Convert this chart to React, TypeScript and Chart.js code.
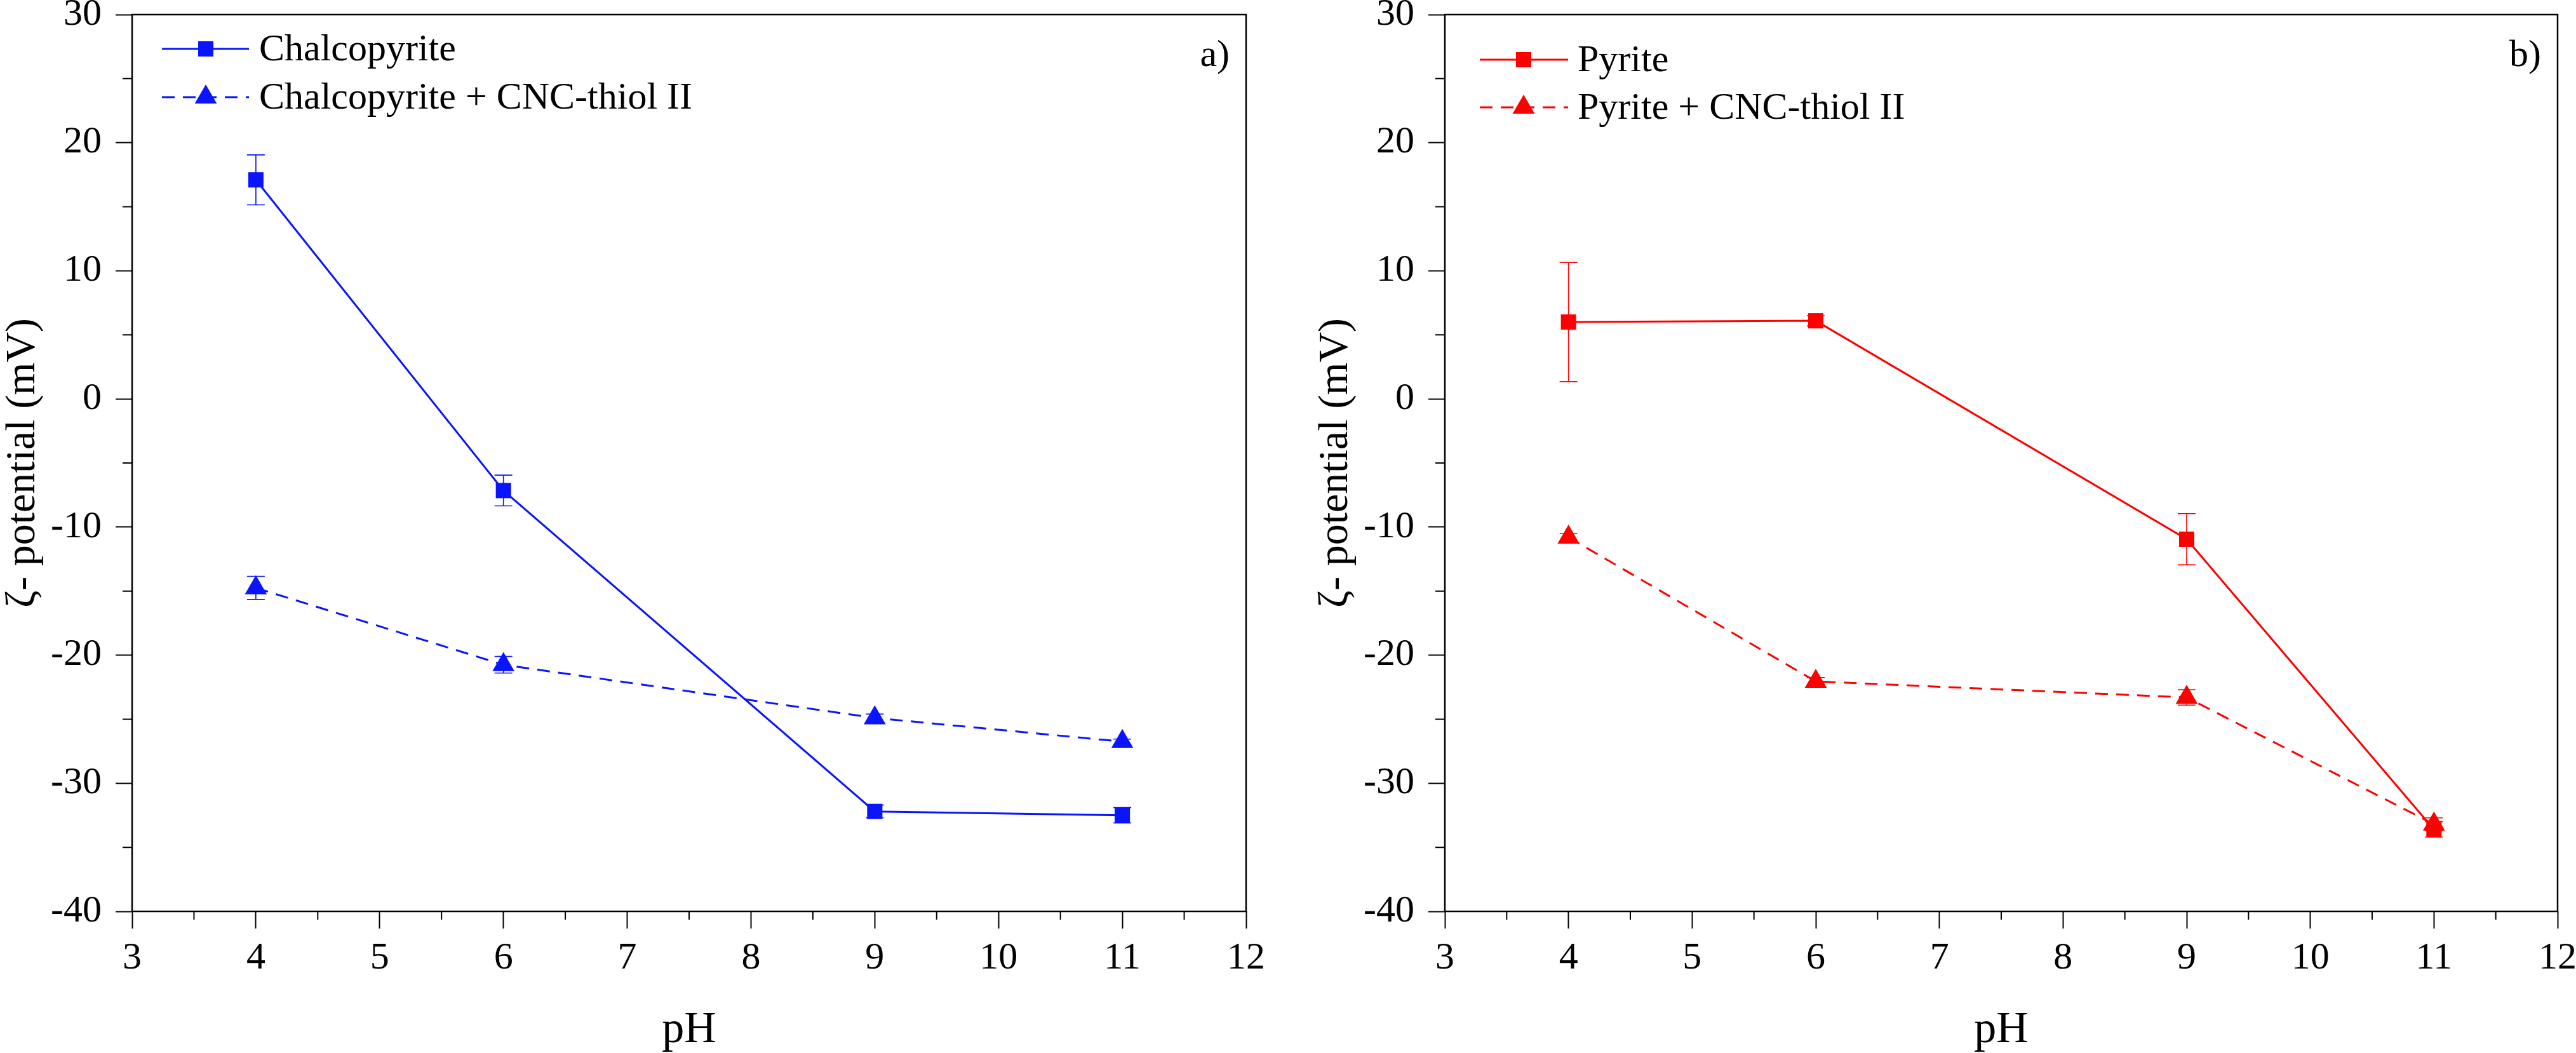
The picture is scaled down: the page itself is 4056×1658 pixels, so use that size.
import React, { useEffect, useRef } from 'react';
import { Chart, registerables } from 'chart.js';

Chart.register(...registerables);

// ---------- data ----------
const pHValues = [4, 6, 9, 11];

const chalcopyrite = [17.1, -7.15, -32.2, -32.5];
const chalcopyriteErr = [1.95, 1.2, 0.5, 0.6];
const chalcopyriteCNC = [-14.75, -20.75, -24.9, -26.75];
const chalcopyriteCNCErr = [0.9, 0.65, 0.3, 0.2];

const pyrite = [6.0, 6.1, -10.95, -33.6];
const pyriteErr = [4.65, 0.4, 2.0, 0.6];
const pyriteCNC = [-10.8, -22.05, -23.3, -33.2];
const pyriteCNCErr = [0.3, 0.3, 0.6, 0.5];

const xTickValues = [3, 4, 5, 6, 7, 8, 9, 10, 11, 12];
const yTickValues = [-40, -30, -20, -10, 0, 10, 20, 30];
const xMinorTicks = [3.5, 4.5, 5.5, 6.5, 7.5, 8.5, 9.5, 10.5, 11.5];
const yMinorTicks = [-35, -25, -15, -5, 5, 15, 25];

const xTitle = 'pH';
const yTitle = 'ζ- potential (mV)';
const labelsA = ['Chalcopyrite', 'Chalcopyrite + CNC-thiol II'];
const labelsB = ['Pyrite', 'Pyrite + CNC-thiol II'];

const BLUE = '#0a14ff';
const RED = '#ff0000';
const FONT = '"Liberation Serif", "Times New Roman", Times, serif';

const W = 4056;
const H = 1658;

type Panel = {
  left: number;
  width: number;
  padRight: number;
  color: string;
  labels: string[];
  series: number[][];
  errors: number[][];
  tag: string;
  legend: { x1: number; x2: number; mx: number; tx: number; y0: number; dy: number };
};

const panels: Panel[] = [
  {
    left: 0,
    width: 2030,
    padRight: 2030 - 1962,
    color: BLUE,
    labels: labelsA,
    series: [chalcopyrite, chalcopyriteCNC],
    errors: [chalcopyriteErr, chalcopyriteCNCErr],
    tag: 'a)',
    legend: { x1: 255, x2: 392, mx: 324, tx: 408, y0: 77, dy: 76 },
  },
  {
    left: 2067,
    width: W - 2067,
    padRight: W - 2067 - (4027 - 2067),
    color: RED,
    labels: labelsB,
    series: [pyrite, pyriteCNC],
    errors: [pyriteErr, pyriteCNCErr],
    tag: 'b)',
    legend: { x1: 263, x2: 402, mx: 332, tx: 417, y0: 94, dy: 75 },
  },
];

function drawMarker(ctx: CanvasRenderingContext2D, style: string, cx: number, cy: number, r: number, color: string) {
  ctx.save();
  ctx.fillStyle = color;
  ctx.beginPath();
  if (style === 'rect') {
    const s = Math.SQRT1_2 * r;
    ctx.rect(cx - s, cy - s, 2 * s, 2 * s);
  } else {
    ctx.moveTo(cx, cy - r);
    ctx.lineTo(cx + r * Math.sin(Math.PI / 3), cy + r / 2);
    ctx.lineTo(cx - r * Math.sin(Math.PI / 3), cy + r / 2);
    ctx.closePath();
  }
  ctx.fill();
  ctx.restore();
}

function makePlugin(panel: Panel) {
  return {
    id: 'decor',
    beforeDatasetsDraw(chart: any) {
      const ctx: CanvasRenderingContext2D = chart.ctx;
      const xs = chart.scales.x;
      const ys = chart.scales.y;
      ctx.save();
      panel.series.forEach((vals, i) => {
        const errs = panel.errors[i];
        ctx.strokeStyle = panel.color;
        ctx.lineWidth = 1.6;
        ctx.setLineDash([]);
        vals.forEach((v, j) => {
          const px = xs.getPixelForValue(pHValues[j]);
          const top = ys.getPixelForValue(v + errs[j]);
          const bot = ys.getPixelForValue(v - errs[j]);
          ctx.beginPath();
          ctx.moveTo(px, top);
          ctx.lineTo(px, bot);
          ctx.moveTo(px - 14, top);
          ctx.lineTo(px + 14, top);
          ctx.moveTo(px - 14, bot);
          ctx.lineTo(px + 14, bot);
          ctx.stroke();
        });
      });
      ctx.restore();
    },
    afterDraw(chart: any) {
      const ctx: CanvasRenderingContext2D = chart.ctx;
      const area = chart.chartArea;
      const xs = chart.scales.x;
      const ys = chart.scales.y;
      ctx.save();
      // frame
      ctx.strokeStyle = '#000';
      ctx.lineWidth = 2.5;
      ctx.setLineDash([]);
      ctx.strokeRect(area.left, area.top, area.right - area.left, area.bottom - area.top);
      // minor ticks
      ctx.lineWidth = 2;
      ctx.beginPath();
      xMinorTicks.forEach((v) => {
        const px = xs.getPixelForValue(v);
        ctx.moveTo(px, area.bottom);
        ctx.lineTo(px, area.bottom + 13);
      });
      yMinorTicks.forEach((v) => {
        const py = ys.getPixelForValue(v);
        ctx.moveTo(area.left - 15, py);
        ctx.lineTo(area.left, py);
      });
      ctx.stroke();
      // legend
      const lg = panel.legend;
      chart.data.datasets.forEach((ds: any, i: number) => {
        const y = lg.y0 + i * lg.dy;
        ctx.strokeStyle = ds.borderColor;
        ctx.lineWidth = 3;
        ctx.setLineDash(ds.borderDash || []);
        ctx.beginPath();
        ctx.moveTo(lg.x1, y);
        ctx.lineTo(lg.x2, y);
        ctx.stroke();
        ctx.setLineDash([]);
        drawMarker(ctx, ds.pointStyle, lg.mx, y, ds.pointRadius, ds.borderColor);
        ctx.fillStyle = '#000';
        ctx.font = `60px ${FONT}`;
        ctx.textAlign = 'left';
        ctx.textBaseline = 'middle';
        ctx.fillText(ds.label, lg.tx, y + 2);
      });
      // panel tag
      ctx.fillStyle = '#000';
      ctx.font = `60px ${FONT}`;
      ctx.textAlign = 'right';
      ctx.textBaseline = 'alphabetic';
      ctx.fillText(panel.tag, area.right - 26, 104);
      ctx.restore();
    },
  };
}

function PanelChart({ panel }: { panel: Panel }) {
  const ref = useRef<HTMLCanvasElement | null>(null);
  useEffect(() => {
    if (!ref.current) return;
    const datasets = panel.series.map((vals, i) => ({
      label: panel.labels[i],
      data: vals.map((v, j) => ({ x: pHValues[j], y: v })),
      borderColor: panel.color,
      backgroundColor: panel.color,
      borderWidth: 3,
      borderDash: i === 1 ? [20, 13] : [],
      pointStyle: i === 0 ? 'rect' : 'triangle',
      pointRadius: i === 0 ? 17 : 20,
      pointBorderWidth: 0,
      pointBackgroundColor: panel.color,
      tension: 0,
      fill: false,
    }));
    const chart = new Chart(ref.current, {
      type: 'line',
      data: { datasets },
      options: {
        animation: false,
        responsive: false,
        maintainAspectRatio: false,
        devicePixelRatio: 1,
        layout: { padding: { left: 0, top: 23, right: panel.padRight, bottom: 0 } },
        plugins: { legend: { display: false }, tooltip: { enabled: false } },
        scales: {
          x: {
            type: 'linear',
            min: xTickValues[0],
            max: xTickValues[xTickValues.length - 1],
            afterBuildTicks: (s: any) => {
              s.ticks = xTickValues.map((v) => ({ value: v }));
            },
            ticks: {
              autoSkip: false,
              maxRotation: 0,
              padding: 11,
              color: '#000',
              font: { family: FONT, size: 60, lineHeight: 1.2 },
            },
            grid: {
              display: true,
              drawOnChartArea: false,
              drawTicks: true,
              tickLength: 27,
              tickWidth: 2,
              tickColor: '#000',
            },
            border: { display: false },
            title: {
              display: true,
              text: xTitle,
              color: '#000',
              font: { family: FONT, size: 70, lineHeight: 1.0 },
              padding: 0,
            },
            afterFit: (s: any) => {
              s.height = 223;
              s.paddingLeft = 0;
              s.paddingRight = 0;
            },
          },
          y: {
            type: 'linear',
            min: yTickValues[0],
            max: yTickValues[yTickValues.length - 1],
            afterBuildTicks: (s: any) => {
              s.ticks = yTickValues.map((v) => ({ value: v }));
            },
            ticks: {
              autoSkip: false,
              padding: 22,
              color: '#000',
              font: { family: FONT, size: 60, lineHeight: 1.2 },
            },
            grid: {
              display: true,
              drawOnChartArea: false,
              drawTicks: true,
              tickLength: 26,
              tickWidth: 2,
              tickColor: '#000',
            },
            border: { display: false },
            title: {
              display: true,
              text: yTitle,
              color: '#000',
              font: { family: FONT, size: 66, lineHeight: 1.1 },
              padding: 0,
            },
            afterFit: (s: any) => {
              s.width = 208;
              s.paddingTop = 0;
              s.paddingBottom = 0;
            },
          },
        },
      },
      plugins: [makePlugin(panel)],
    } as any);
    return () => chart.destroy();
  }, [panel]);
  return (
    <canvas
      ref={ref}
      width={panel.width}
      height={H}
      style={{ position: 'absolute', left: panel.left, top: 0, width: panel.width, height: H }}
    />
  );
}

export default function App() {
  return (
    <div style={{ position: 'fixed', left: 0, top: 0, width: W, height: H, background: '#fff' }}>
      {panels.map((p) => (
        <PanelChart key={p.tag} panel={p} />
      ))}
    </div>
  );
}
